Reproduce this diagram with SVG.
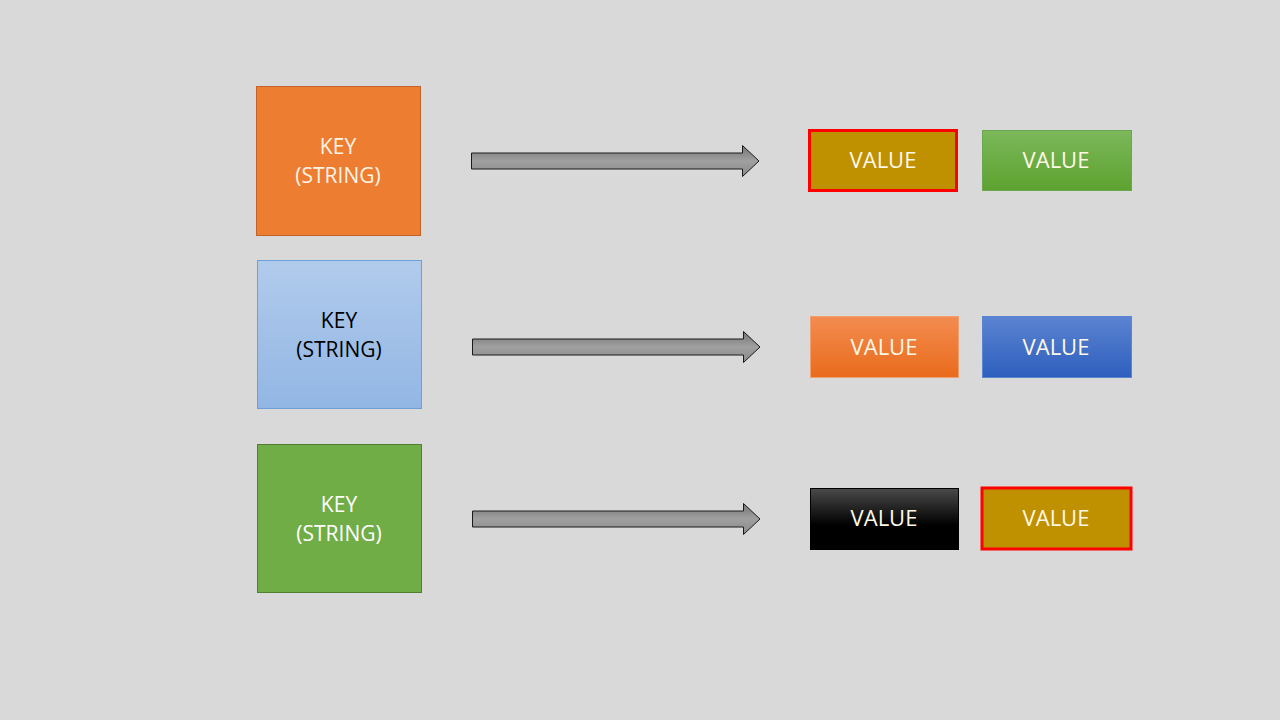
<svg xmlns="http://www.w3.org/2000/svg" width="1280" height="720" viewBox="0 0 1280 720">
<defs>
<linearGradient id="gArrow" x1="0" y1="0" x2="0" y2="1"><stop offset="0" stop-color="#737373"/><stop offset="0.5" stop-color="#a0a0a0"/><stop offset="1" stop-color="#888"/></linearGradient>
<linearGradient id="gBlueKey" x1="0" y1="0" x2="0" y2="1"><stop offset="0" stop-color="#b1cbec"/><stop offset="1" stop-color="#92b6e4"/></linearGradient>
<linearGradient id="gGreen" x1="0" y1="0" x2="0" y2="1"><stop offset="0" stop-color="#7cb85a"/><stop offset="1" stop-color="#5da230"/></linearGradient>
<linearGradient id="gOrange" x1="0" y1="0" x2="0" y2="1"><stop offset="0" stop-color="#f38c50"/><stop offset="1" stop-color="#e96b1c"/></linearGradient>
<linearGradient id="gBlue" x1="0" y1="0" x2="0" y2="1"><stop offset="0" stop-color="#5b84d1"/><stop offset="1" stop-color="#2e5fbe"/></linearGradient>
<linearGradient id="gBlack" x1="0" y1="0" x2="0" y2="1"><stop offset="0" stop-color="#4a4a4a"/><stop offset="0.6" stop-color="#000"/><stop offset="1" stop-color="#000"/></linearGradient>
</defs>
<style>
.t{font-family:"Open Sans","Liberation Sans",sans-serif;text-anchor:middle}
.k{font-size:21px}
.v{font-size:22px;fill:#fff8e7}
.arrow{fill:url(#gArrow);stroke:#1a1a1a;stroke-width:1}
</style>
<rect width="1280" height="720" fill="#d9d9d9"/>
<g id="key1">
<rect x="256.5" y="86.5" width="164" height="149" fill="#ed7d31" stroke="#c0632a"/>
<text class="t k" x="338" y="154" fill="#fff4e6">KEY</text>
<text class="t k" x="338" y="183" fill="#fff4e6">(STRING)</text>
</g>
<g id="key2">
<rect x="257.5" y="260.5" width="164" height="148" fill="url(#gBlueKey)" stroke="#6e9fd6"/>
<text class="t k" x="339" y="328" fill="#000">KEY</text>
<text class="t k" x="339" y="357" fill="#000">(STRING)</text>
</g>
<g id="key3">
<rect x="257.5" y="444.5" width="164" height="148" fill="#70ad47" stroke="#507e32"/>
<text class="t k" x="339" y="512" fill="#fff">KEY</text>
<text class="t k" x="339" y="541" fill="#fff">(STRING)</text>
</g>
<g id="connectors">
<path class="arrow" d="M471.5 153 H742.5 V145.5 L759 161 L742.5 176.5 V169 H471.5 Z"/>
<path class="arrow" d="M472.5 339 H743.5 V331.5 L760 347 L743.5 362.5 V355 H472.5 Z"/>
<path class="arrow" d="M472.5 511 H743.5 V503.5 L760 519 L743.5 534.5 V527 H472.5 Z"/>
</g>
<g id="v1a">
<rect x="809.5" y="130.5" width="147" height="60" fill="#bf9000" stroke="#ff0000" stroke-width="3"/>
<text class="t v" x="883" y="168">VALUE</text>
</g>
<g id="v1b">
<rect x="982.5" y="130.5" width="149" height="60" fill="url(#gGreen)" stroke="#6aa84f" stroke-width="1"/>
<text class="t v" x="1056" y="168">VALUE</text>
</g>
<g id="v2a">
<rect x="810.5" y="316.5" width="148" height="61" fill="url(#gOrange)" stroke="#f0a070" stroke-width="1"/>
<text class="t v" x="884" y="355">VALUE</text>
</g>
<g id="v2b">
<rect x="982.5" y="316.5" width="149" height="61" fill="url(#gBlue)" stroke="#5b84d1" stroke-width="1"/>
<text class="t v" x="1056" y="355">VALUE</text>
</g>
<g id="v3a">
<rect x="810.5" y="488.5" width="148" height="61" fill="url(#gBlack)" stroke="#000" stroke-width="1"/>
<text class="t v" x="884" y="526" fill="#fff">VALUE</text>
</g>
<g id="v3b">
<rect x="982" y="488" width="149" height="61" fill="#bf9000" stroke="#ff0000" stroke-width="3"/>
<text class="t v" x="1056" y="526">VALUE</text>
</g>
</svg>
